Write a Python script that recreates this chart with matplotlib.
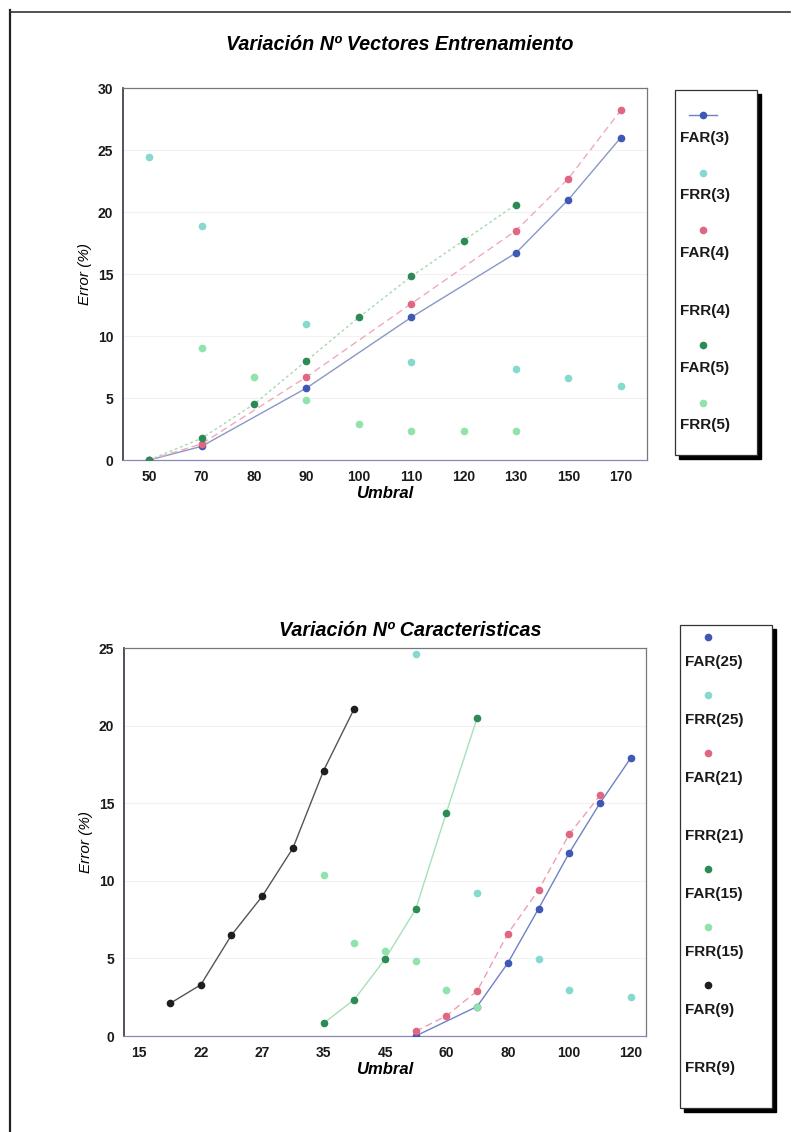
import numpy as np
import matplotlib
matplotlib.use('Agg')
import matplotlib.pyplot as plt
from matplotlib.lines import Line2D
from matplotlib.patches import Rectangle

plt.rcParams['font.family'] = ['Liberation Sans', 'DejaVu Sans']

nan = np.nan

# Grafico 1: variacion del numero de vectores de entrenamiento
umbral_1 = ['50', '70', '80', '90', '100', '110', '120', '130', '150', '170']
far_3 = [0.0, 1.1, nan, 5.8, nan, 11.5, nan, 16.7, 21.0, 26.0]
frr_3 = [24.4, 18.9, nan, 11.0, nan, 7.9, nan, 7.3, 6.6, 6.0]
far_4 = [0.0, 1.3, nan, 6.7, nan, 12.6, nan, 18.5, 22.7, 28.2]
frr_4 = [nan] * 10
far_5 = [0.0, 1.75, 4.5, 8.0, 11.5, 14.8, 17.7, 20.6, nan, nan]
frr_5 = [nan, 9.0, 6.7, 4.8, 2.9, 2.3, 2.3, 2.3, nan, nan]

# Grafico 2: variacion del numero de caracteristicas
umbral_2 = ['15', '18', '22', '25', '27', '30', '35', '40', '45', '50',
            '60', '70', '80', '90', '100', '110', '120']
far_25 = [nan] * 9 + [0.0, nan, 1.9, 4.7, 8.2, 11.8, 15.0, 17.9]
frr_25 = [nan] * 9 + [24.6, nan, 9.2, nan, 4.95, 2.97, nan, 2.5]
far_21 = [nan] * 9 + [0.3, 1.3, 2.9, 6.6, 9.4, 13.0, 15.5, nan]
frr_21 = [nan] * 17
far_15 = [nan] * 6 + [0.82, 2.35, 4.95, 8.17, 14.4, 20.5] + [nan] * 5
frr_15 = [nan] * 6 + [10.35, 6.0, 5.45, 4.85, 2.97, 1.9] + [nan] * 5
far_9 = [nan, 2.1, 3.3, 6.5, 9.0, 12.1, 17.1, 21.1] + [nan] * 9
frr_9 = [nan] * 17

W, H = 797, 1132
fig = plt.figure(figsize=(W / 100, H / 100), dpi=100)

def px(x, y):
    # pixeles de la imagen -> fraccion de figura
    return x / W, 1 - y / H

def ejes(left, top, right, bottom):
    x0, y1 = px(left, top)
    x1, y0 = px(right, bottom)
    return fig.add_axes([x0, y0, x1 - x0, y1 - y0])

def serie(ax, valores, color, line_color=None, ls='-'):
    v = np.array(valores, dtype=float)
    x = np.arange(len(v))
    ok = ~np.isnan(v)
    if line_color is not None:
        ax.plot(x[ok], v[ok], color=line_color, ls=ls, lw=1.0, zorder=2)
    ax.plot(x[ok], v[ok], ls='none', marker='o', ms=4.5, color=color,
            mec=color, zorder=3)

def estilo(ax, n, ymax, labels, paso):
    ax.set_xlim(-0.5, n - 0.5)
    ax.set_ylim(0, ymax)
    ax.set_yticks(np.arange(0, ymax + 1, 5))
    ax.set_xticks(np.arange(0, n, paso))
    ax.set_xticklabels(labels[::paso])
    ax.tick_params(length=0, labelsize=10, pad=7, colors='#1a1a1a')
    for t in ax.get_xticklabels() + ax.get_yticklabels():
        t.set_fontweight('bold')
    for s in ax.spines.values():
        s.set_color('#777777')
        s.set_linewidth(0.9)
    ax.spines['left'].set_color('#333344')
    ax.spines['left'].set_linewidth(1.2)
    ax.spines['bottom'].set_color('#8888bb')
    ax.grid(axis='y', color='#f1f1f1', lw=0.8, zorder=0)
    ax.set_axisbelow(True)
    ax.set_xlabel('Umbral', fontsize=12, fontweight='bold', style='italic',
                  labelpad=2)
    ax.set_ylabel('Error (%)', fontsize=11, style='italic', labelpad=4)

def leyenda(x0, y0, x1, y1, entradas, y_first, paso, text_dy, con_linea=()):
    a, b = px(x0, y1)
    c, d = px(x1, y0)
    sx, sy = 4 / W, 4 / H
    fig.add_artist(Rectangle((a + sx, b - sy), c - a, d - b,
                             transform=fig.transFigure, fc='black', ec='black'))
    fig.add_artist(Rectangle((a, b), c - a, d - b, transform=fig.transFigure,
                             fc='white', ec='#333333', lw=0.9))
    for i, (texto, color) in enumerate(entradas):
        ym = y_first + i * paso
        mx, my = px(x0 + 28, ym)
        if texto in con_linea:
            l0, _ = px(x0 + 14, ym)
            l1, _ = px(x0 + 42, ym)
            fig.add_artist(Line2D([l0, l1], [my, my], color='#7080c0', lw=1.0,
                                  transform=fig.transFigure))
        if color is not None:
            fig.add_artist(Line2D([mx], [my], marker='o', ms=4.5, color=color,
                                  transform=fig.transFigure))
        tx, ty = px(x0 + 5, ym + text_dy)
        fig.text(tx, ty, texto, fontsize=11, fontweight='bold', va='center',
                 ha='left', color='#1a1a1a')

azul = '#3f57b5'
cian = '#86d9cf'
rojo = '#e06681'
verde = '#2c8a55'
verde_cl = '#8fe3ab'
negro = '#1e1e1e'

# ---- grafico superior
ax1 = ejes(123, 88, 647, 460)
serie(ax1, far_3, azul, '#8a96c8', '-')
serie(ax1, frr_3, cian)
serie(ax1, far_4, rojo, '#f0aab8', (0, (5, 3)))
serie(ax1, frr_4, '#fdfbe0')
serie(ax1, far_5, verde, '#a8d8b0', (0, (2, 2)))
serie(ax1, frr_5, verde_cl)
estilo(ax1, len(umbral_1), 30, umbral_1, 1)
fig.text(*px(400, 45), 'Variación Nº Vectores Entrenamiento', fontsize=14.2,
         fontweight='bold', style='italic', ha='center', va='center')
leyenda(675, 90, 757, 455,
        [('FAR(3)', azul), ('FRR(3)', cian), ('FAR(4)', rojo),
         ('FRR(4)', None), ('FAR(5)', verde), ('FRR(5)', verde_cl)],
        115, 57.5, 23, con_linea=('FAR(3)',))

# ---- grafico inferior
ax2 = ejes(124, 648, 646, 1036)
serie(ax2, far_25, azul, '#6f82c8', '-')
serie(ax2, frr_25, cian)
serie(ax2, far_21, rojo, '#eea0b2', (0, (5, 3)))
serie(ax2, frr_21, '#fdfbe0')
serie(ax2, far_15, verde, '#a8e0b8', '-')
serie(ax2, frr_15, verde_cl)
serie(ax2, far_9, negro, '#555555', '-')
serie(ax2, frr_9, '#fdfbe0')
estilo(ax2, len(umbral_2), 25, umbral_2, 2)
fig.text(*px(410, 630), 'Variación Nº Caracteristicas', fontsize=14.2,
         fontweight='bold', style='italic', ha='center', va='center')
leyenda(680, 625, 772, 1108,
        [('FAR(25)', azul), ('FRR(25)', cian), ('FAR(21)', rojo),
         ('FRR(21)', None), ('FAR(15)', verde), ('FRR(15)', verde_cl),
         ('FAR(9)', negro), ('FRR(9)', None)],
        637, 58, 25)

# marco de la pagina escaneada
fig.add_artist(Line2D([10 / W, 10 / W], [0, 1 - 10 / H], color='#222222',
                      lw=1.6, transform=fig.transFigure))
fig.add_artist(Line2D([10 / W, 790 / W], [1 - 12 / H, 1 - 12 / H],
                      color='#333333', lw=1.2, transform=fig.transFigure))

fig.savefig('out.png', dpi=100)
